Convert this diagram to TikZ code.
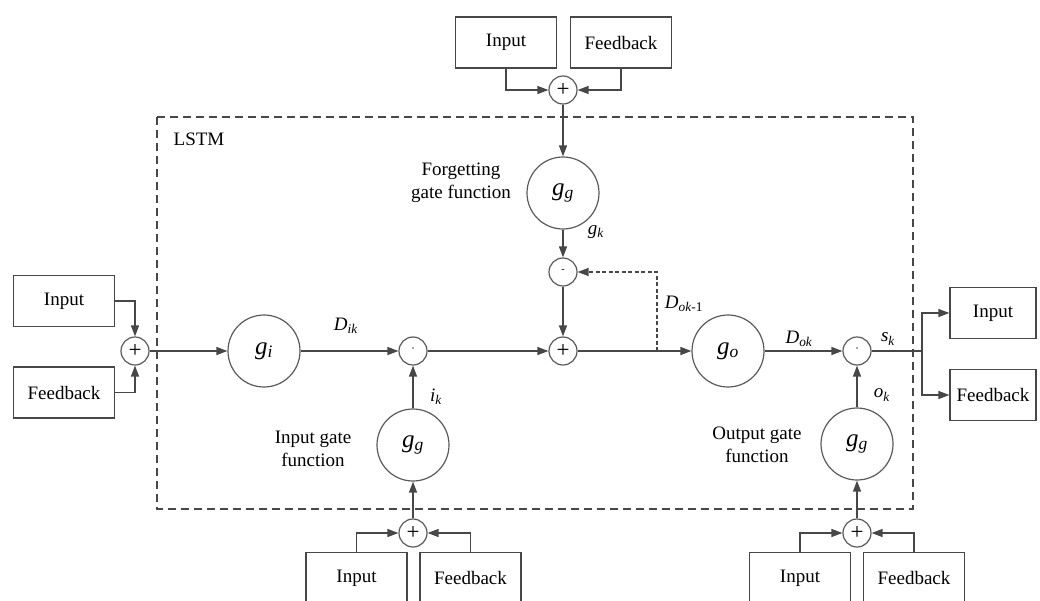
\documentclass[tikz,border=0pt]{standalone}
\usepackage{fontspec}
\setmainfont{Liberation Serif}
\usetikzlibrary{arrows.meta}
\definecolor{lc}{HTML}{474747}
\definecolor{cc}{HTML}{5A5A5A}
\newcommand{\vsub}[2]{\textit{#1}\textsubscript{#2}}
\begin{document}
\begin{tikzpicture}[x=1pt,y=-1pt,
  line/.style={draw=lc, line width=1.3pt},
  arr/.style={line, -{Triangle[length=11pt,width=8pt]}},
  txt/.style={font=\fontsize{19}{23}\selectfont, inner sep=0pt, align=center},
  lbl/.style={font=\fontsize{19}{23}\selectfont, inner sep=0pt},
  iobox/.style={draw=lc, line width=1.2pt, rectangle, minimum width=101pt, minimum height=51pt, inner sep=0pt, font=\fontsize{19}{23}\selectfont},
  gcirc/.style={draw=cc, line width=1.2pt, circle, minimum size=72pt, inner sep=0pt, font=\fontsize{25}{28}\selectfont},
  ocirc/.style={draw=cc, line width=1.2pt, circle, minimum size=28pt, inner sep=0pt, font=\fontsize{23}{23}\selectfont}]
\useasboundingbox (0,0) rectangle (1040,600);
\clip (0,0) rectangle (1040,600);
\fill[white] (0,0) rectangle (1040,600);

% LSTM frame
\draw[draw=lc, line width=1.2pt, dash pattern=on 8pt off 5pt] (157,117) rectangle (913,509);
\node[lbl] (lstm) at (199,139) {LSTM};

% top inputs
\node[iobox] (tin) at (506,42.5) {Input};
\node[iobox] (tfb) at (621,42.5) {Feedback};
\node[ocirc] (ptop) at (563,90) {+};
\draw[arr] (tin.south) |- (ptop.west);
\draw[arr] (tfb.south) |- (ptop.east);

% forgetting gate
\node[gcirc] (ggf) at (563,193) {\vsub{g}{\textit{g}}};
\node[txt] (flab) at (461,183) {Forgetting\\gate function};
\node[ocirc] (dotf) at (563,272) {\raisebox{2pt}{\fontsize{10}{10}\selectfont -}};
\node[ocirc] (pmain) at (563,351) {+};
\draw[arr] (ptop.south) -- (ggf.north);
\draw[arr] (ggf.south) -- (dotf.north);
\node[lbl] (gk) at (596,232) {\vsub{g}{\textit{k}}};
\draw[arr] (dotf.south) -- (pmain.north);

% left inputs
\node[iobox] (lin) at (64,301) {Input};
\node[iobox] (lfb) at (64,392.5) {Feedback};
\node[ocirc] (lplus) at (135,351) {+};
\draw[arr] (lin.east) -| (lplus.north);
\draw[arr] (lfb.east) -| (lplus.south);

% input chain
\node[gcirc] (gi) at (264,351) {\vsub{g}{\textit{i}}};
\node[ocirc] (doti) at (413,351) {\raisebox{1pt}{\fontsize{12}{12}\selectfont\textperiodcentered}};
\draw[arr] (lplus.east) -- (gi.west);
\draw[arr] (gi.east) -- (doti.west);
\node[lbl] (dik) at (346,326) {\vsub{D}{\textit{ik}}};
\draw[arr] (doti.east) -- (pmain.west);

% input gate
\node[gcirc] (ggi) at (413,445) {\vsub{g}{\textit{g}}};
\node[txt] (ilab) at (313,449) {Input gate\\function};
\draw[arr] (ggi.north) -- (doti.south);
\node[lbl] (ik) at (436,397) {\vsub{i}{\textit{k}}};
\node[ocirc] (bp1) at (413,533) {+};
\draw[arr] (bp1.north) -- (ggi.south);
\node[iobox] (bin1) at (356.5,578) {Input};
\node[iobox] (bfb1) at (470.5,578) {Feedback};
\draw[arr] (bin1.north) |- (bp1.west);
\draw[arr] (bfb1.north) |- (bp1.east);

% output chain
\node[gcirc] (go) at (728,351) {\vsub{g}{\textit{o}}};
\draw[arr] (pmain.east) -- (go.west);
\coordinate (br) at (657,351);
\draw[arr, dash pattern=on 4pt off 2.5pt] (br) |- (dotf.east);
\node[lbl] (dok1) at (684,304) {\vsub{D}{\textit{ok}-1}};
\node[ocirc] (doto) at (857,351) {\raisebox{1pt}{\fontsize{12}{12}\selectfont\textperiodcentered}};
\draw[arr] (go.east) -- (doto.west);
\node[lbl] (dok) at (799,339) {\vsub{D}{\textit{ok}}};

% output gate
\node[gcirc] (ggo) at (857,444) {\vsub{g}{\textit{g}}};
\node[txt] (olab) at (757,445) {Output gate\\function};
\draw[arr] (ggo.north) -- (doto.south);
\node[lbl] (ok) at (882,395) {\vsub{o}{\textit{k}}};
\node[ocirc] (bp2) at (857,533) {+};
\draw[arr] (bp2.north) -- (ggo.south);
\node[iobox] (bin2) at (800,578) {Input};
\node[iobox] (bfb2) at (914,578) {Feedback};
\draw[arr] (bin2.north) |- (bp2.west);
\draw[arr] (bfb2.north) |- (bp2.east);

% outputs
\node[lbl] (sk) at (888,339) {\vsub{s}{\textit{k}}};
\node[iobox, minimum width=86pt] (rin) at (993,313) {Input};
\node[iobox, minimum width=86pt] (rfb) at (993,395) {Feedback};
\coordinate (sp) at (922,351);
\draw[line] (doto.east) -- (sp);
\draw[arr] (sp) |- (rin.west);
\draw[arr] (sp) |- (rfb.west);
\end{tikzpicture}
\end{document}
